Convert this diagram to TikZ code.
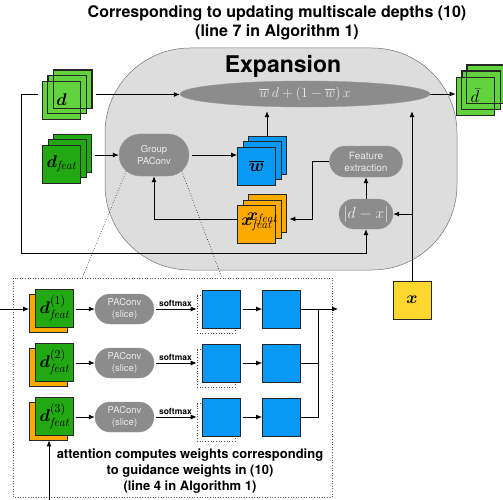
\RequirePackage{fix-cm}
\documentclass[tikz,border=0pt]{standalone}
\usepackage{amsmath}
\usepackage{fontspec}
\newfontfamily\hv{TeX Gyre Heros}
\usetikzlibrary{arrows.meta, positioning, calc, shapes.geometric, shapes.misc}

\definecolor{lgreen}{HTML}{62D33C}
\definecolor{dgreen}{HTML}{22A812}
\definecolor{wblue}{HTML}{0A98F5}
\definecolor{forange}{HTML}{FDAA00}
\definecolor{xyellow}{HTML}{FDD62E}
\definecolor{opgray}{HTML}{8C8C8C}
\definecolor{expgray}{HTML}{DDDDDD}

\begin{document}
\begin{tikzpicture}[
    x=1pt, y=-1pt,
    >={Latex[length=6pt,width=5pt]},
    sq/.style={rectangle, draw=black!85, line width=0.7pt, minimum size=38pt, inner sep=0pt},
    op/.style={rounded rectangle, draw=black!40, line width=0.4pt, fill=opgray, text=black!8,
        font=\hv\fontsize{9.5}{11.5}\selectfont, align=center, inner sep=1pt},
    conn/.style={->, line width=0.9pt},
    plain/.style={line width=0.9pt},
    lbl/.style={font=\fontsize{17}{19}\selectfont},
    smx/.style={font=\hv\bfseries\fontsize{8.5}{9}\selectfont, inner sep=1.5pt}
]
\useasboundingbox (0,0) rectangle (503,500);

% -------- Title --------
\node[font=\hv\bfseries\fontsize{16}{19}\selectfont, align=center] (title) at (277,22.5)
    {Corresponding to updating multiscale depths (10)\\(line 7 in Algorithm 1)};

% -------- Expansion block --------
\draw[fill=expgray, draw=black!55, line width=0.5pt, rounded corners=85pt] (105,48) rectangle (457,270);
\node[font=\hv\bfseries\fontsize{23}{25}\selectfont] (exptitle) at (283,66) {Expansion};

\node[ellipse, fill=opgray, draw=black!40, minimum width=250pt, minimum height=26pt, inner sep=0pt,
    text=black!8, font=\fontsize{14}{16}\selectfont] (ell) at (305,94)
    {$\overline{w}\,d+(1-\overline{w})\,x$};

% -------- Input d --------
\node[sq, fill=lgreen] (d3) at (72.5,89) {};
\node[sq, fill=lgreen] (d2) at (67,94.5) {};
\node[sq, fill=lgreen, lbl] (d1) at (61.5,100) {$\boldsymbol{d}$};
\draw[line width=0.7pt, draw=black!85] (d2.south west) rectangle (d2.north east)
    (d3.south west) rectangle (d3.north east);

% -------- Output d bar --------
\node[sq, fill=lgreen] (db3) at (486,84) {};
\node[sq, fill=lgreen] (db2) at (481,90) {};
\node[sq, fill=lgreen, lbl] (db1) at (475,96) {$\bar{d}$};
\draw[line width=0.7pt, draw=black!85] (db2.south west) rectangle (db2.north east)
    (db3.south west) rectangle (db3.north east);

% -------- d_feat --------
\node[sq, fill=dgreen] (df3) at (72.5,153.5) {};
\node[sq, fill=dgreen] (df2) at (67,158.5) {};
\node[sq, fill=dgreen, lbl] (df1) at (61.5,164) {$\boldsymbol{d}_{\mathit{feat}}$};

% -------- Group PAConv, w bar, x_feat --------
\node[op, minimum width=72pt, minimum height=42pt] (gp) at (154,155) {Group\\PAConv};

\node[sq, fill=wblue] (w3) at (267,155) {};
\node[sq, fill=wblue] (w2) at (262,160.5) {};
\node[sq, fill=wblue, lbl, font=\fontsize{18}{20}\selectfont] (w1) at (256.5,166) {$\overline{\boldsymbol{w}}$};

\node[sq, fill=forange] (xf3) at (267,213.5) {};
\node[sq, fill=forange] (xf2) at (262,219) {};
\node[sq, fill=forange, lbl] (xf1) at (256.5,224.5) {$\boldsymbol{x}_{\mathit{feat}}$};
\node[lbl] (xf2lab) at (262,219) {$\boldsymbol{x}_{\mathit{feat}}$};

% -------- Feature extraction, |d-x| --------
\node[op, minimum width=75pt, minimum height=31pt, font=\hv\fontsize{10}{12}\selectfont] (fe) at (366,161.5)
    {Feature\\extraction};
\node[op, minimum width=56pt, minimum height=30pt, font=\fontsize{16}{18}\selectfont] (dx) at (366,214) {$|d-x|$};

% -------- Input x --------
\node[sq, fill=xyellow, lbl] (xin) at (412,300) {$\boldsymbol{x}$};

% -------- Connections (top) --------
\coordinate (lp) at (21,253);
\draw[conn, shorten <=4pt] (d3.east |- d2.east) -- (ell.west |- d2.east);
\draw[conn, shorten <=4pt] (d2.west -| d1.west) -| (lp) -| (dx.south);
\draw[conn] (ell.east) -- (db1.west |- ell.east);
\draw[conn, shorten <=3pt] (df3.east |- gp.west) -- (gp.west);
\draw[conn, shorten <=3pt] (gp.east) -- (gp.east -| w1.west);
\draw[conn, shorten >=4pt] (w3.north) -- (w3.north |- ell.south);
\draw[conn] (xf1.west |- xf2.west) -| (gp.south);
\draw[conn, shorten >=3pt] (fe.west) -- ++(-17,0) |- (xf3.east |- xf2.east);
\draw[conn] (dx.north) -- (fe.south);
\draw[conn, shorten >=4pt] (xin.north) -- (xin.north |- ell.south);
\draw[conn] (xin.north |- dx.east) -- (dx.east);

% -------- Zoom-in on Group PAConv --------
\coordinate (zl) at (82,278);
\coordinate (zr) at (222,278);
\draw[dotted, line width=0.6pt] (gp.-150) -- (zl);
\draw[dotted, line width=0.6pt] (gp.-30) -- (zr);
\draw[dotted, line width=0.6pt, draw=black!65] (13,278) rectangle (332,497);

% -------- Slices --------
\foreach \i/\y in {1/309, 2/363, 3/417} {
    \node[sq, fill=forange] (o\i) at (48.5,\y+4) {};
    \node[sq, fill=dgreen, lbl] (g\i) at (54.5,\y-1) {$\boldsymbol{d}^{(\i)}_{\mathit{feat}}$};
    \node[op, minimum width=61pt, minimum height=30pt] (pa\i) at (124.5,\y) {PAConv\\(slice)};
    \node[sq, dotted, draw=black!70, line width=0.6pt] (sh\i) at (216,\y+5.5) {};
    \node[sq, fill=wblue] (a\i) at (221.5,\y) {};
    \node[sq, fill=wblue] (b\i) at (281.5,\y) {};

    \draw[conn, shorten <=2pt] (g\i.east |- pa\i.west) -- (pa\i.west);
    \draw[conn, shorten <=2pt] (pa\i.east) -- node[above, smx] {softmax} (sh\i.west |- pa\i.east);
    \draw[conn, shorten <=2pt] (a\i.east) -- (b\i.west);
}

\coordinate (jn) at (318,309);
\coordinate (out) at (338,309);
\draw[conn] (b1.east) -- (out);
\draw[plain] (b2.east) -| (jn);
\draw[plain] (b3.east) -| (jn);

% -------- Inputs to slices --------
\coordinate (inL) at (0,309);
\coordinate (inB) at (49,500);
\draw[conn] (inL) -- (inL -| o1.west);
\draw[conn] (inB) -- (inB |- o3.south);

\node[font=\hv\bfseries\fontsize{13}{16}\selectfont, align=center] (note) at (190,471)
    {attention computes weights corresponding\\to guidance weights in (10)\\(line 4 in Algorithm 1)};

\end{tikzpicture}
\end{document}
